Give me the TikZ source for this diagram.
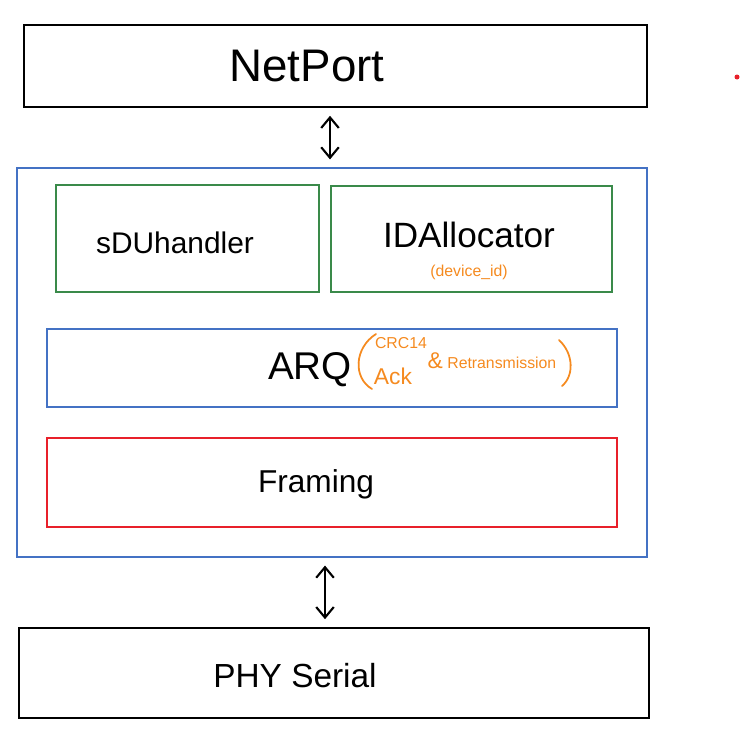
\documentclass[tikz,border=0pt]{standalone}
\usepackage{fontspec}
\setmainfont{Liberation Sans}
\usetikzlibrary{arrows.meta, positioning}
\definecolor{mBlue}{HTML}{4472C4}
\definecolor{mGreen}{HTML}{3A8A4A}
\definecolor{mRed}{HTML}{E8202A}
\definecolor{mOrange}{HTML}{F58A1F}

\newcommand{\fsz}[1]{\fontsize{#1}{1.1\dimexpr #1pt\relax}\selectfont}

\begin{document}
\begin{tikzpicture}[x=0.02cm, y=-0.02cm,
      layer/.style={draw, line width=1pt, inner sep=0pt},
      blk/.style={draw, line width=0.8pt, inner sep=0pt},
      updown/.style={{Straight Barb[length=6pt, width=10pt]}-{Straight Barb[length=6pt, width=10pt]},
        line width=1.2pt, shorten <=4.5pt, shorten >=4.5pt},
      note/.style={text=mOrange, inner sep=0pt},
      paren/.style={mOrange, line width=1pt, line cap=round}]
    \useasboundingbox (0,0) rectangle (741,737);
    % outer layers
    \node[layer, minimum width=12.46cm, minimum height=1.64cm] (netport) at (335.5,66) {};
    \node[layer, minimum width=12.60cm, minimum height=1.80cm] (phy) at (334,673) {};
    \node[blk, mBlue, minimum width=12.60cm, minimum height=7.78cm] (stack) at (332,362.5) {};
    % inner blocks
    \node[blk, mGreen, minimum width=5.26cm, minimum height=2.14cm] (sdu) at (187.5,238.5) {};
    \node[blk, mGreen, minimum width=5.62cm, minimum height=2.12cm] (idalloc) at (471.5,239) {};
    \node[blk, mBlue, minimum width=11.40cm, minimum height=1.56cm] (arq) at (332,368) {};
    \node[blk, mRed, minimum width=11.40cm, minimum height=1.78cm] (framing) at (332,482.5) {};
    % labels
    \node (netportT) at (307,66) {\fsz{26}NetPort};
    \node (sduT) at (175,243) {\fsz{17}sDUhandler};
    \node (idallocT) at (469,235) {\fsz{20}IDAllocator};
    \node[note] (devid) at (469,272) {\fsz{9}(device\_id)};
    \node (arqT) at (310,370) {\fsz{22}ARQ};
    \node[note] (crc) at (401,343) {\fsz{9}CRC14};
    \node[note] (ack) at (393,376) {\fsz{13}Ack};
    \node[note] (retx) at (492,361) {\fsz{13}\&\fsz{9} Retransmission};
    \node (framingT) at (316,484) {\fsz{18}Framing};
    \node (phyT) at (295,676) {\fsz{19}PHY Serial};
    % handwritten brackets round the ARQ note
    \draw[paren] (376,334) .. controls (354,348) and (353,378) .. (372,389);
    \draw[paren] (559,340) .. controls (574,354) and (574,376) .. (562,386);
    % connectors
    \draw[updown] ([xshift=-0.11cm]netport.south) -- ([xshift=-0.11cm]netport.south |- stack.north);
    \draw[updown] ([xshift=-0.14cm]stack.south) -- ([xshift=-0.14cm]stack.south |- phy.north);
    \fill[mRed] (737,77) circle (0.05cm);
  \end{tikzpicture}
\end{document}
